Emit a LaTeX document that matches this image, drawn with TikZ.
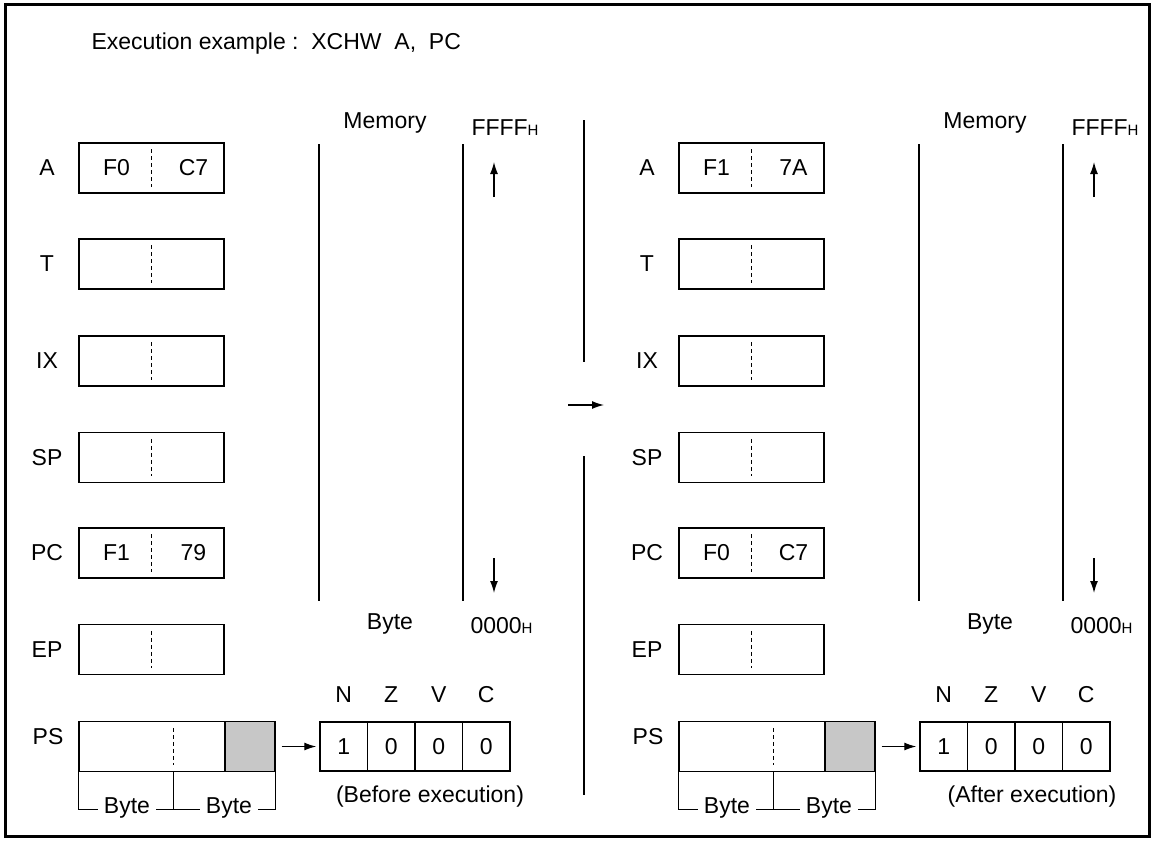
\documentclass[tikz,border=0pt]{standalone}
\usepackage{fontspec}
\setmainfont{Liberation Sans}
\usepackage{tikz}
\usetikzlibrary{arrows.meta}

\begin{document}
\begin{tikzpicture}[
  x=1pt,y=-1pt,font=\fontsize{23}{26}\selectfont,
  reg/.style={draw,line width=1.4pt,minimum width=145pt,minimum height=50pt,inner sep=0pt},
  cell/.style={draw,line width=1.4pt,minimum width=47.5pt,minimum height=49pt,inner sep=0pt},
  half/.style={draw,line width=1.1pt,dash pattern=on 4pt off 3pt},
  wall/.style={line width=1.4pt},
  gap/.style={fill=white,inner ysep=2pt,inner xsep=6pt},
  tip/.style={-{Latex[length=12pt,width=8pt]},line width=1.3pt}
]
\useasboundingbox (0,0) rectangle (1154,843);
\draw[line width=3pt] (5,5) rectangle (1149,836);
\node[anchor=west] (title) at (88,44) {Execution example :\ \ XCHW\ \ A,\ \ PC};

\foreach \s/\dx in {L/0,R/600} {
  % registers
  \foreach \r/\y in {A/168,T/264,IX/361,SP/457.5,PC/553,EP/649.5} {
    \node[reg] (\s\r) at (\dx+151.5,\y) {};
    \node (\s\r lbl) at (\dx+47,\y) {\r};
    \draw[half] ([yshift=-7pt]\s\r.north) -- ([yshift=7pt]\s\r.south);
  }
  % PS and its bytes
  \node[reg,minimum width=196pt] (\s PS) at (\dx+177,746.5) {};
  \node[reg,minimum width=50pt,fill=black!22,anchor=east] (\s PSg) at (\s PS.east) {};
  \node (\s PSlbl) at (\dx+48,737) {PS};
  \draw[half] ([xshift=95pt,yshift=-7pt]\s PS.north west) -- ([xshift=95pt,yshift=7pt]\s PS.south west);
  \draw[wall] (\s PS.south west) -- ++(0,37) -- ([yshift=-37pt]\s PS.south east) -- (\s PS.south east);
  \draw[wall] ([xshift=95pt]\s PS.south west) -- ++(0,37);
  \node[gap] (\s b1) at (\dx+127,808) {Byte};
  \node[gap] (\s b2) at (\dx+229,808) {Byte};
  % flags
  \foreach \f/\v [count=\i] in {N/1,Z/0,V/0,C/0} {
    \node[cell] (\s F\i) at (\dx+296.25+47.5*\i,746.5) {\v};
    \node (\s N\i) at (\dx+296.25+47.5*\i,695) {\f};
  }
  \draw[tip,shorten <=6pt,shorten >=3pt] (\s PSg) -- (\s F1);
  % memory
  \draw[wall] (\dx+319,144) -- (\dx+319,601);
  \draw[wall] (\dx+463,144) -- (\dx+463,601);
  \node (\s mem) at (\dx+385,123) {Memory};
  \node[anchor=west] (\s top) at (\dx+468,128) {FFFF{\fontsize{15}{15}\selectfont H}};
  \node (\s byte) at (\dx+390,624) {Byte};
  \node[anchor=west] (\s bot) at (\dx+467,626) {0000{\fontsize{15}{15}\selectfont H}};
  \draw[tip] (\dx+494,197) -- (\dx+494,162);
  \draw[tip] (\dx+494,558) -- (\dx+494,593);
}

% register contents
\node at ([xshift=-35pt]LA.center) {F0};
\node at ([xshift=42pt]LA.center) {C7};
\node at ([xshift=-35pt]LPC.center) {F1};
\node at ([xshift=42pt]LPC.center) {79};
\node at ([xshift=-35pt]RA.center) {F1};
\node at ([xshift=42pt]RA.center) {7A};
\node at ([xshift=-35pt]RPC.center) {F0};
\node at ([xshift=42pt]RPC.center) {C7};

\node (before) at (430,797) {(Before execution)};
\node (after) at (1032,797) {(After execution)};

% separator
\draw[wall] (584,120) -- (584,362);
\draw[wall] (584,456) -- (584,795);
\coordinate (go) at (568,405);
\coordinate (gone) at (604,405);
\draw[tip] (go) -- (gone);
\end{tikzpicture}
\end{document}
